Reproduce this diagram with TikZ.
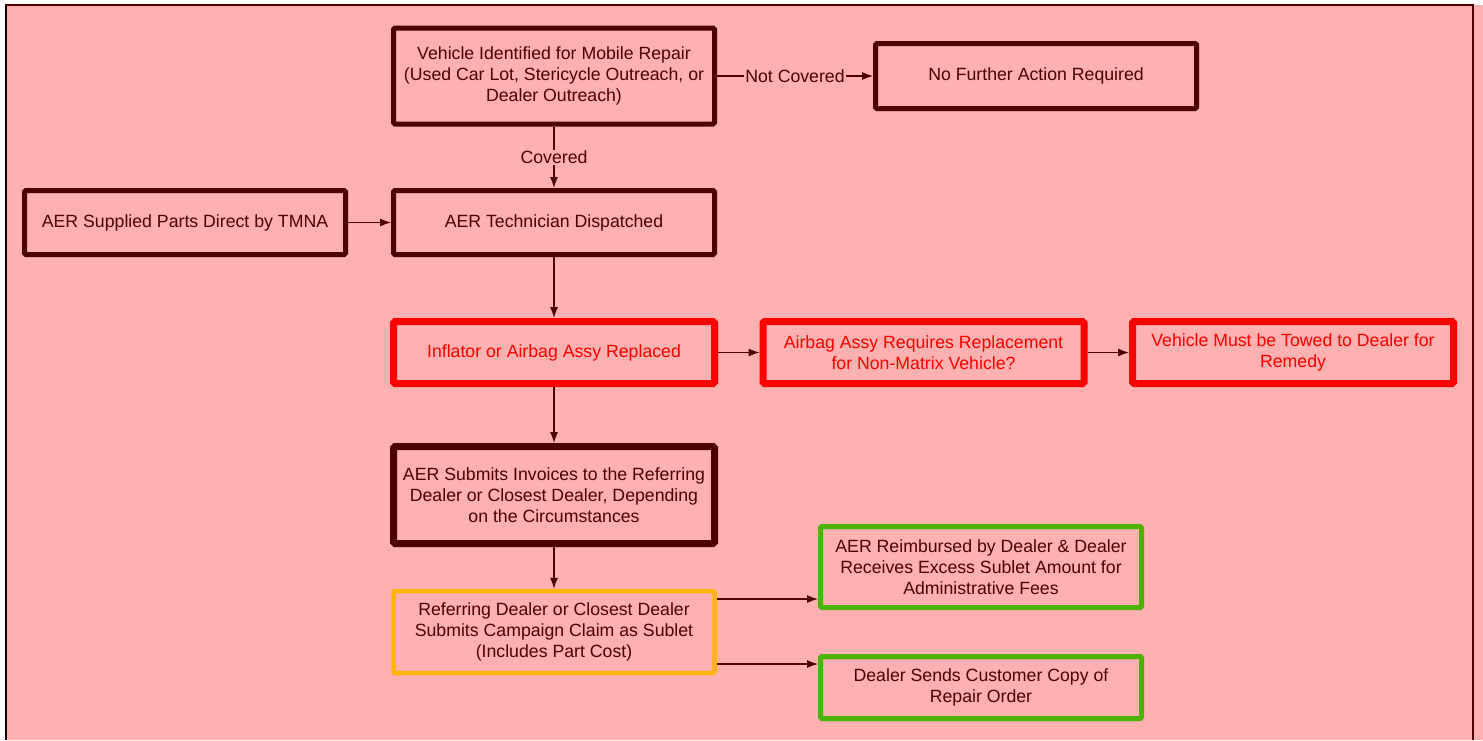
\documentclass[tikz,border=0pt]{standalone}
\usepackage{fontspec}
\setmainfont{Liberation Sans}
\usetikzlibrary{arrows.meta}
\definecolor{bgpink}{RGB}{255,176,176}
\definecolor{darkm}{RGB}{77,0,0}
\definecolor{redb}{RGB}{255,0,0}
\definecolor{greenb}{RGB}{76,178,0}
\definecolor{orangeb}{RGB}{255,180,0}
\begin{document}
\begin{tikzpicture}[x=1pt,y=-1pt,
  box/.style={draw=darkm, line width=5pt, rounded corners=1.5pt, minimum width=321pt,
    inner sep=0pt, align=center, text=darkm, font=\fontsize{17.7}{21}\selectfont},
  redbox/.style={box, draw=redb, line width=7pt, text=redb},
  thickbox/.style={box, line width=7pt},
  orangebox/.style={box, draw=orangeb, line width=4.5pt},
  greenbox/.style={box, draw=greenb, line width=5pt},
  arr/.style={-{Latex[length=11pt,width=8pt]}, draw=darkm, line width=1.2pt},
  lbl/.style={fill=bgpink, text=darkm, inner sep=1pt, font=\fontsize{17.7}{21}\selectfont},
]
\useasboundingbox (0,0) rectangle (1483,740);
\fill[white] (0,0) rectangle (1483,740);
\fill[bgpink] (5,5) rectangle (1483,740);
\draw[black, line width=2pt] (5.5,5) -- (5.5,740);
\draw[darkm, line width=2pt] (5,5) -- (1473,5) -- (1473,740);

\node[box, minimum height=96pt] (V) at (554,76) {Vehicle Identified for Mobile Repair\\(Used Car Lot, Stericycle Outreach, or\\Dealer Outreach)};
\node[box, minimum height=65pt] (N) at (1036,76) {No Further Action Required};
\node[box, minimum height=64pt] (S) at (185,222.5) {AER Supplied Parts Direct by TMNA};
\node[box, minimum height=64pt] (T) at (554,222.5) {AER Technician Dispatched};
\node[redbox, minimum height=62pt] (I) at (554,352.5) {Inflator or Airbag Assy Replaced};
\node[redbox, minimum height=62pt] (A) at (923.5,352.5) {Airbag Assy Requires Replacement\\for Non-Matrix Vehicle?};
\node[redbox, minimum height=62pt] (W) at (1293,352.5) {Vehicle Must be Towed to Dealer for\\Remedy};
\node[thickbox, minimum height=97pt] (R) at (554,495) {AER Submits Invoices to the Referring\\Dealer or Closest Dealer, Depending\\on the Circumstances};
\node[orangebox, minimum height=82pt] (D) at (554,632) {Referring Dealer or Closest Dealer\\Submits Campaign Claim as Sublet\\(Includes Part Cost)};
\node[greenbox, minimum height=81pt] (G1) at (981,567) {AER Reimbursed by Dealer \& Dealer\\Receives Excess Sublet Amount for\\Administrative Fees};
\node[greenbox, minimum height=62pt] (G2) at (981,687.5) {Dealer Sends Customer Copy of\\Repair Order};

\draw[arr] (V.east) -- node[lbl]{Not Covered} (N.west);
\draw[arr] (V.south) -- node[lbl]{Covered} (T.north);
\draw[arr] (S.east) -- (T.west);
\draw[arr] (T.south) -- (I.north);
\draw[arr] (I.east) -- (A.west);
\draw[arr] (A.east) -- (W.west);
\draw[arr] (I.south) -- (R.north);
\draw[arr] (R.south) -- (D.north);
\draw[arr] ([yshift=33pt]D.east) -- ([yshift=33pt]D.east -| G1.west);
\draw[arr] ([yshift=-32pt]D.east) -- ([yshift=-32pt]D.east -| G2.west);
\end{tikzpicture}
\end{document}
